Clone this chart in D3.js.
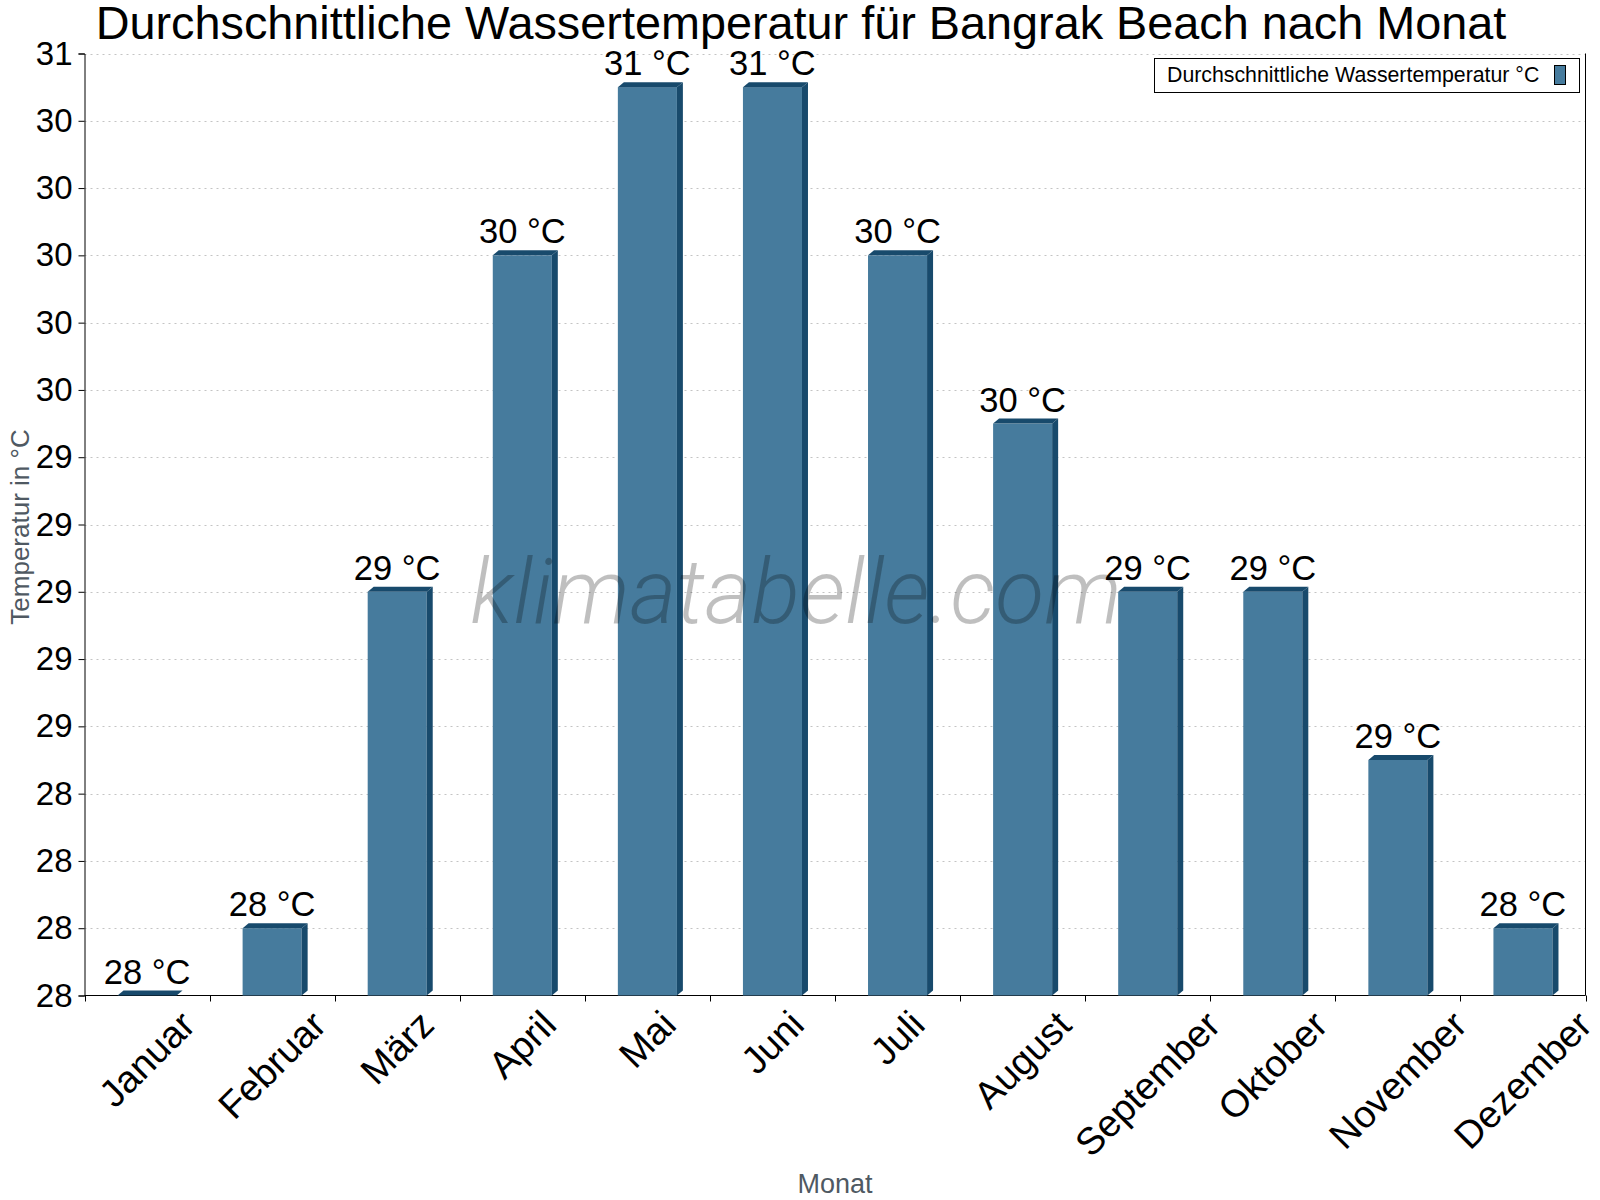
<!DOCTYPE html>
<html>
<head>
<meta charset="utf-8">
<script src="https://cdn.jsdelivr.net/npm/d3@7"></script>
<style>
  body { margin: 0; background: #fff; }
  text { font-family: "Liberation Sans", Arial, sans-serif; }
</style>
</head>
<body>
<div id="chart"></div>
<script>
// monthly values
var months = ["Januar", "Februar", "März", "April", "Mai", "Juni", "Juli", "August", "September", "Oktober", "November", "Dezember"];
var waterTemp = [27.8, 28.0, 29.0, 30.0, 30.5, 30.5, 30.0, 29.5, 29.0, 29.0, 28.5, 28.0];
var yTicks = [27.8, 28.0, 28.2, 28.4, 28.6, 28.8, 29.0, 29.2, 29.4, 29.6, 29.8, 30.0, 30.2, 30.4, 30.6];

var width = 1600, height = 1200;
var front = "#467b9d", dark = "#184a6c";

var svg = d3.select("#chart").append("svg")
    .attr("width", width)
    .attr("height", height);

// plot area (don't call it "top", that's window.top)
var plotLeft = 84.5, plotRight = 1585.5, plotTop = 53.5, plotBottom = 995.5;
var depth = 6, rise = 5;

var x = d3.scaleBand().domain(months).range([plotLeft, plotRight])
    .paddingInner(0.528).paddingOuter(0.264);
var y = d3.scaleLinear().domain([27.8, 30.6]).range([plotBottom, plotTop]);
var step = x.step();

// title
svg.append("text")
    .attr("x", 801).attr("y", 39)
    .attr("text-anchor", "middle")
    .attr("font-size", 46.8)
    .text("Durchschnittliche Wassertemperatur für Bangrak Beach nach Monat");

// grid
svg.append("g").selectAll("line")
    .data(yTicks.slice(1))
    .enter().append("line")
    .attr("x1", plotLeft).attr("x2", plotRight)
    .attr("y1", function (d) { return Math.round(y(d)) + 0.5; })
    .attr("y2", function (d) { return Math.round(y(d)) + 0.5; })
    .attr("stroke", "#c4c4c4")
    .attr("stroke-dasharray", "2,4");

// y axis
var yAxis = d3.axisLeft(y).tickValues(yTicks).tickSize(6).tickPadding(6)
    .tickFormat(function (d) { return Math.round(d); });
var gy = svg.append("g")
    .attr("transform", "translate(" + plotLeft + ",0)")
    .call(yAxis);
gy.select(".domain").attr("stroke", "#000");
gy.selectAll(".tick line").attr("stroke", "#000");
gy.selectAll(".tick text").attr("font-size", 33).attr("fill", "#000")
    .attr("font-family", "Liberation Sans, Arial, sans-serif");

// x axis: ticks sit on band boundaries
var boundaries = d3.range(months.length + 1).map(function (i) { return plotLeft + i * step; });
svg.append("line")
    .attr("x1", plotLeft).attr("x2", plotRight)
    .attr("y1", plotBottom).attr("y2", plotBottom)
    .attr("stroke", "#000");
svg.append("g").selectAll("line")
    .data(boundaries)
    .enter().append("line")
    .attr("x1", function (d) { return Math.round(d) + 0.5; })
    .attr("x2", function (d) { return Math.round(d) + 0.5; })
    .attr("y1", plotBottom).attr("y2", plotBottom + 6)
    .attr("stroke", "#000");

// right border
svg.append("line")
    .attr("x1", plotRight).attr("x2", plotRight)
    .attr("y1", plotTop).attr("y2", plotBottom)
    .attr("stroke", "#000");

// bars with a small 3d side and top
var bars = svg.append("g").selectAll("g")
    .data(waterTemp)
    .enter().append("g");

bars.append("rect")
    .attr("x", function (d, i) { return x(months[i]); })
    .attr("y", function (d) { return y(d); })
    .attr("width", x.bandwidth())
    .attr("height", function (d) { return plotBottom - y(d); })
    .attr("fill", front);

bars.append("path")
    .attr("fill", dark)
    .attr("d", function (d, i) {
        var x0 = x(months[i]), x1 = x0 + x.bandwidth(), yt = y(d);
        return "M" + x0 + "," + yt + "L" + (x0 + depth) + "," + (yt - rise) +
            "L" + (x1 + depth) + "," + (yt - rise) + "L" + x1 + "," + yt + "Z";
    });

bars.append("path")
    .attr("fill", dark)
    .attr("d", function (d, i) {
        var x1 = x(months[i]) + x.bandwidth(), yt = y(d);
        return "M" + x1 + "," + yt + "L" + (x1 + depth) + "," + (yt - rise) +
            "L" + (x1 + depth) + "," + (plotBottom - rise) + "L" + x1 + "," + plotBottom + "Z";
    });

bars.append("text")
    .attr("x", function (d, i) { return x(months[i]) + x.bandwidth() / 2; })
    .attr("y", function (d) { return y(d) - 12; })
    .attr("text-anchor", "middle")
    .attr("font-size", 34.5)
    .text(function (d) { return Math.round(d) + " °C"; });

// month labels, rotated, box centred under the band
var labels = svg.append("g").selectAll("g")
    .data(months)
    .enter().append("g");
labels.append("text")
    .attr("font-size", 38)
    .attr("transform", "rotate(-45)")
    .text(function (d) { return d; });
labels.each(function (d) {
    var b = this.getBBox();
    var cx = x(d) + x.bandwidth() / 2;
    d3.select(this).attr("transform",
        "translate(" + (cx - (b.x + b.width / 2)) + "," + (1003 - b.y) + ")");
});

// axis titles
svg.append("text")
    .attr("transform", "translate(29,527) rotate(-90)")
    .attr("text-anchor", "middle")
    .attr("font-size", 26)
    .attr("fill", "#4f5962")
    .text("Temperatur in °C");

svg.append("text")
    .attr("x", (plotLeft + plotRight) / 2).attr("y", 1193)
    .attr("text-anchor", "middle")
    .attr("font-size", 27)
    .attr("fill", "#4f5962")
    .text("Monat");

// legend
var legend = svg.append("g");
legend.append("rect")
    .attr("x", 1154.5).attr("y", 58.5)
    .attr("width", 425).attr("height", 34)
    .attr("fill", "#fff").attr("stroke", "#000");
legend.append("text")
    .attr("x", 1167).attr("y", 82)
    .attr("font-size", 21.3)
    .text("Durchschnittliche Wassertemperatur °C");
legend.append("rect")
    .attr("x", 1554.5).attr("y", 65.5)
    .attr("width", 11).attr("height", 19)
    .attr("fill", front).attr("stroke", "#000");

// watermark
svg.append("text")
    .attr("x", 796).attr("y", 623)
    .attr("text-anchor", "middle")
    .attr("font-size", 90)
    .attr("font-style", "italic")
    .attr("font-weight", 300)
    .attr("fill", "#000")
    .attr("fill-opacity", 0.25)
    .style("font-family", "Roboto, sans-serif")
    .text("klimatabelle.com");
</script>
</body>
</html>
